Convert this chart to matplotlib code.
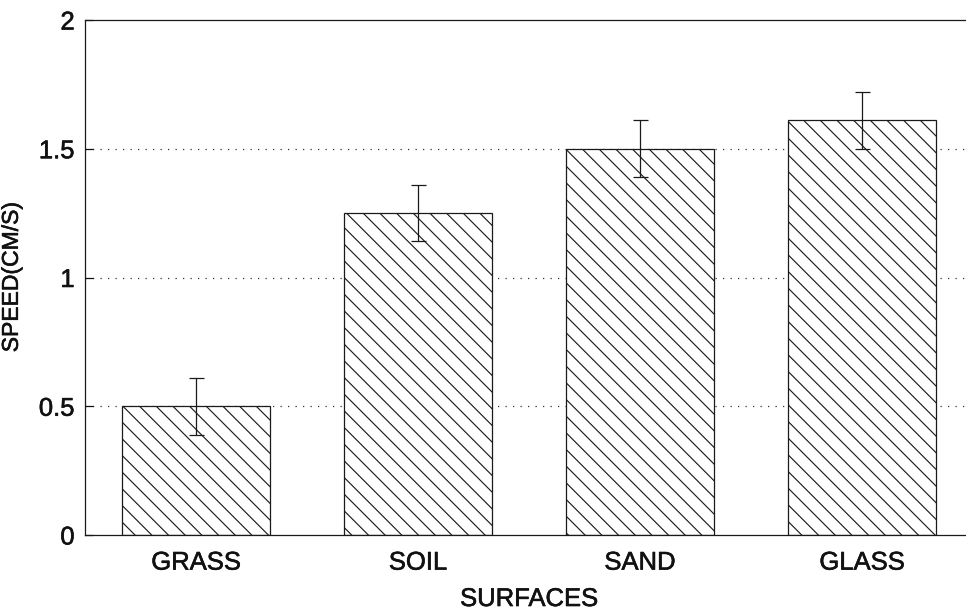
import matplotlib
matplotlib.use("Agg")
import matplotlib.pyplot as plt
import matplotlib.patheffects as pe

surfaces = ["GRASS", "SOIL", "SAND", "GLASS"]
speed = [0.50, 1.25, 1.50, 1.61]
speed_err = [0.11, 0.11, 0.11, 0.11]
y_ticks = [0, 0.5, 1, 1.5, 2]
y_tick_labels = ["0", "0.5", "1", "1.5", "2"]

plt.rcParams["font.family"] = ["Liberation Sans", "DejaVu Sans"]
plt.rcParams["hatch.linewidth"] = 0.55
plt.rcParams["hatch.color"] = "#1a1a1a"

TEXT_COLOR = "#111111"
# slightly heavier strokes for the printed-looking lettering
thick = [pe.withStroke(linewidth=0.28, foreground=TEXT_COLOR)]

fig = plt.figure(figsize=(966 / 150, 610 / 150), dpi=150)
ax = fig.add_axes([85 / 966, 1 - 535 / 610, 888 / 966, 515 / 610])

x = list(range(1, len(surfaces) + 1))
ax.bar(x, speed, width=0.67, color="white", edgecolor="#1a1a1a",
       linewidth=0.6, hatch="\\\\\\", zorder=2)
ax.errorbar(x, speed, yerr=speed_err, fmt="none", ecolor="#1a1a1a",
            elinewidth=0.6, capsize=3.6, capthick=0.6, zorder=3)

ax.set_xlim(0.5, 4.5)
ax.set_ylim(0, 2)
ax.set_xticks(x)
ax.set_xticklabels(surfaces)
ax.set_yticks(y_ticks)
ax.set_yticklabels(y_tick_labels)

for yv in y_ticks[1:-1]:
    ax.axhline(yv, color="#333333", linestyle=(0, (1, 5)), linewidth=0.6, zorder=1)

for side in ("left", "top", "bottom"):
    ax.spines[side].set_linewidth(0.6)
    ax.spines[side].set_color("#1a1a1a")
ax.spines["right"].set_visible(False)

ax.tick_params(axis="both", direction="in", length=4, width=0.6,
               colors=TEXT_COLOR, labelsize=12.3)
ax.tick_params(axis="y", pad=5)
ax.tick_params(axis="x", pad=7.5)

ax.set_xlabel("SURFACES", fontsize=12.3, color=TEXT_COLOR)
ax.set_ylabel("SPEED(CM/S)", fontsize=11, color=TEXT_COLOR)
ax.xaxis.set_label_coords(0.5, -0.101)
ax.yaxis.set_label_coords(-0.07, 0.5)

for t in ax.get_xticklabels() + ax.get_yticklabels() + [ax.xaxis.label, ax.yaxis.label]:
    t.set_path_effects(thick)

fig.savefig("out.png", dpi=150)
